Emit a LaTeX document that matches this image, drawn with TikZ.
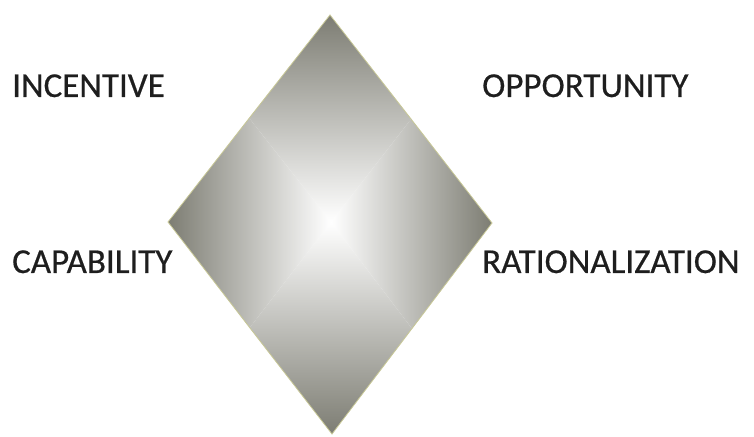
\documentclass[tikz,border=0pt]{standalone}
\usepackage{fontspec}
\setmainfont[FakeBold=0.5]{Carlito}
\definecolor{edgegray}{RGB}{125,125,115}
\definecolor{txtgray}{RGB}{30,30,30}
\colorlet{midgray}{edgegray!40!white}
\begin{document}
\begin{tikzpicture}[x=1pt,y=1pt,
  lbl/.style={anchor=base west,inner sep=0pt,font=\fontsize{35}{40}\selectfont,text=txtgray}]
\useasboundingbox (0,0) rectangle (754,436);
\fill[white] (0,0) rectangle (754,436);
% diamond corners
\coordinate (T) at (330,421);
\coordinate (B) at (332,2);
\coordinate (L) at (168,214);
\coordinate (R) at (492,213);
\coordinate (C) at (331,214);
\begin{scope}
\clip (T) -- (R) -- (B) -- (L) -- cycle;
\shade[top color=edgegray,middle color=midgray,bottom color=white] (C) -- (168,421) -- (492,421) -- cycle;
\shade[bottom color=edgegray,middle color=midgray,top color=white] (C) -- (168,2) -- (492,2) -- cycle;
\shade[left color=edgegray,middle color=midgray,right color=white] (C) -- (168,421) -- (168,2) -- cycle;
\shade[right color=edgegray,middle color=midgray,left color=white] (C) -- (492,421) -- (492,2) -- cycle;
\end{scope}
\draw[draw=edgegray!70!yellow!60!white,line width=0.8pt] (T) -- (R) -- (B) -- (L) -- cycle;
\node[lbl] (inc) at (12,339) {INCENTIVE};
\node[lbl] (opp) at (482,339) {OPPORTUNITY};
\node[lbl] (cap) at (12,163) {CAPABILITY};
\node[lbl] (rat) at (482,163) {RATIONALIZATION};
\end{tikzpicture}
\end{document}
